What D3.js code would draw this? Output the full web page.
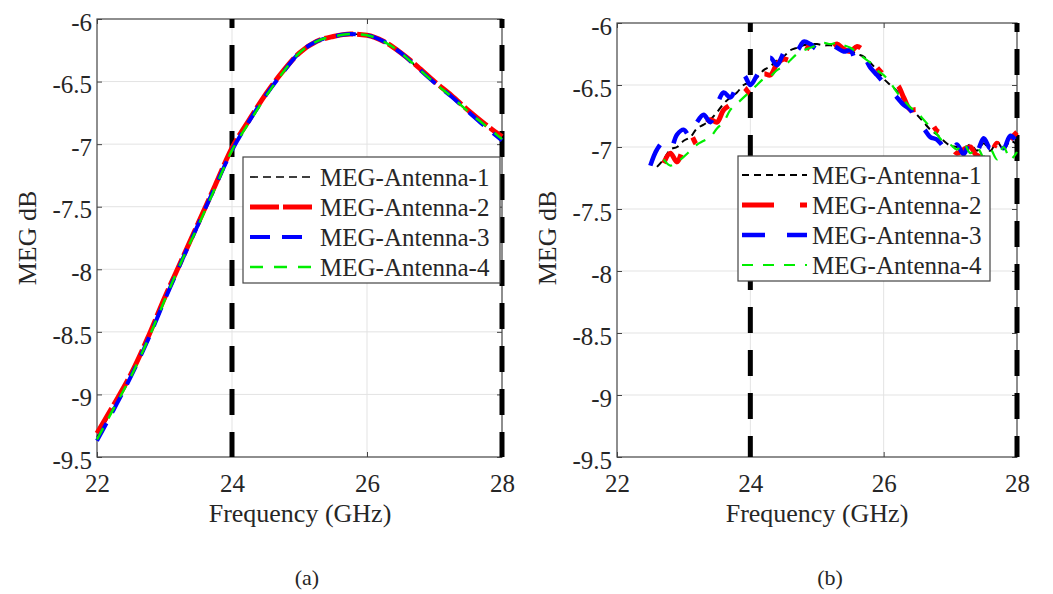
<!DOCTYPE html>
<html>
<head>
<meta charset="utf-8">
<script src="https://cdn.jsdelivr.net/npm/d3@7/dist/d3.min.js"></script>
<style>
body { margin: 0; background: #fff; }
</style>
</head>
<body>
<div id="chart"></div>
<script>
// ---- data ----
const seriesNames = ["MEG-Antenna-1", "MEG-Antenna-2", "MEG-Antenna-3", "MEG-Antenna-4"];
const xTicks = [22, 24, 26, 28];
const yTicks = [-6, -6.5, -7, -7.5, -8, -8.5, -9, -9.5];
const bandEdges = [24, 28];
const panelLabels = ["(a)", "(b)"];

// panel (a)
const freqA = [22, 22.25, 22.5, 22.75, 23, 23.25, 23.5, 23.75, 24, 24.25, 24.5, 24.75, 25,
    25.25, 25.5, 25.75, 26, 26.25, 26.5, 26.75, 27, 27.25, 27.5, 27.75, 28];
const megA1 = [-9.34, -9.1, -8.85, -8.56, -8.24, -7.93, -7.64, -7.34, -7.04, -6.82, -6.61, -6.43, -6.27,
    -6.18, -6.14, -6.12, -6.13, -6.18, -6.27, -6.39, -6.51, -6.62, -6.74, -6.85, -6.96];
const megA2 = [-9.31, -9.08, -8.84, -8.55, -8.23, -7.93, -7.63, -7.33, -7.03, -6.81, -6.6, -6.42, -6.27,
    -6.18, -6.14, -6.12, -6.13, -6.18, -6.27, -6.38, -6.5, -6.61, -6.73, -6.84, -6.94];
const megA3 = [-9.37, -9.12, -8.86, -8.57, -8.25, -7.94, -7.64, -7.34, -7.05, -6.82, -6.61, -6.43, -6.27,
    -6.18, -6.14, -6.12, -6.13, -6.18, -6.27, -6.39, -6.51, -6.62, -6.74, -6.86, -6.97];
const megA4 = [-9.36, -9.11, -8.86, -8.57, -8.25, -7.94, -7.65, -7.35, -7.05, -6.83, -6.62, -6.43, -6.27,
    -6.18, -6.14, -6.12, -6.13, -6.18, -6.27, -6.39, -6.51, -6.62, -6.74, -6.85, -6.96];

// panel (b)
const freqB = [22.5, 22.6, 22.7, 22.8, 22.9, 23, 23.1, 23.2, 23.3, 23.4, 23.5, 23.6, 23.7, 23.8, 23.9,
    24, 24.1, 24.2, 24.3, 24.4, 24.5, 24.6, 24.7, 24.8, 24.9, 25, 25.1, 25.2, 25.3, 25.4, 25.5,
    25.6, 25.7, 25.8, 25.9, 26, 26.1, 26.2, 26.3, 26.4, 26.5, 26.6, 26.7, 26.8, 26.9, 27,
    27.1, 27.2, 27.3, 27.4, 27.5, 27.6, 27.7, 27.8, 27.9, 28];
const megB1 = [null, -7.16, -7.1, -7.02, -7.0, -6.95, -6.92, -6.85, -6.82, -6.78, -6.72, -6.65, -6.6, -6.56, -6.5,
    -6.48, -6.44, -6.38, -6.35, -6.3, -6.27, -6.22, -6.2, -6.18, -6.17, -6.17, -6.18, -6.18, -6.19, -6.2, -6.22,
    -6.25, -6.27, -6.32, -6.38, -6.45, -6.5, -6.55, -6.62, -6.68, -6.74, -6.8, -6.86, -6.9, -6.95, -6.99,
    -7.0, -7.02, -6.98, -7.03, -6.97, -7.03, -6.96, -7.02, -6.95, -6.98];
const megB2 = [null, null, -7.13, -7.05, -7.12, -7.0, -6.9, -6.98, -6.85, -6.78, -6.8, -6.7, -6.66, -6.62, -6.52,
    -6.57, -6.47, -6.41, -6.42, -6.33, -6.29, -6.3, -6.22, -6.24, -6.17, -6.15, -6.19, -6.2, -6.17, -6.21, -6.23,
    -6.19, -6.22, -6.28, -6.36, -6.42, -6.52, -6.5, -6.6, -6.7, -6.7, -6.77, -6.8, -6.87, -6.9, -6.98,
    -7.05, -7.02, -7.0, -7.07, -6.99, -7.05, -6.97, -7.05, -6.94, -6.88];
const megB3 = [-7.15, -7.02, -6.96, -7.02, -6.9, -6.86, -6.92, -6.8, -6.74, -6.8, -6.66, -6.56, -6.6, -6.5, -6.42,
    -6.5, -6.42, -6.32, -6.28, -6.34, -6.24, -6.18, -6.22, -6.15, -6.17, -6.21, -6.18, -6.17, -6.2, -6.23, -6.22,
    -6.32, -6.28, -6.36, -6.42, -6.48, -6.54, -6.6, -6.66, -6.7, -6.8, -6.85, -6.92, -6.94, -7.0, -7.05,
    -6.98, -7.06, -6.95, -7.03, -6.93, -7.01, -6.93, -7.01, -6.91, -6.96];
const megB4 = [null, null, -7.1, -7.15, -7.12, -7.08, -7.03, -6.98, -6.95, -6.92, -6.85, -6.8, -6.7, -6.65, -6.6,
    -6.55, -6.5, -6.45, -6.43, -6.38, -6.35, -6.3, -6.25, -6.22, -6.2, -6.18, -6.16, -6.17, -6.16, -6.18, -6.2,
    -6.24, -6.28, -6.32, -6.38, -6.42, -6.48, -6.56, -6.62, -6.68, -6.72, -6.78, -6.84, -6.9, -6.96, -6.98,
    -7.02, -6.97, -7.05, -7.0, -7.08, -7.02, -7.1, -7.0, -7.1, -7.04];

// ---- layout ----
const width = 1053, height = 594;
const font = "Liberation Serif";
const textColor = "#262626";
const colors = ["#000000", "#ff0000", "#0000ff", "#00ee00"];

const panels = [
    {
        left: 97, right: 502, top: 19, bottom: 457,
        freq: freqA, series: [megA1, megA2, megA3, megA4],
        widths: [1.6, 5, 4, 2.5],
        dashes: ["8 5", "29 4", "20 12", "13 11"],
        legend: { x: 243, y: 157, w: 257, h: 126, rowY: 177, sx0: 250, sx1: 313, tx: 320 },
        curve: d3.curveMonotoneX, labelX: 300, yLabelX: 36, tagX: 307
    },
    {
        left: 617, right: 1017, top: 23, bottom: 457,
        freq: freqB, series: [megB1, megB2, megB3, megB4],
        widths: [2, 5, 4.5, 2.2],
        dashes: ["7 5", "32 26 7 26", "23 22", "11 10"],
        legend: { x: 738, y: 156, w: 252, h: 125, rowY: 175, sx0: 742, sx1: 807, tx: 812 },
        curve: d3.curveCatmullRom, labelX: 817, yLabelX: 556, tagX: 830
    }
];

const svg = d3.select("#chart")
    .append("svg")
    .attr("width", width)
    .attr("height", height);

const addText = (sel, size) => sel.append("text")
    .attr("font-family", font)
    .style("font-family", font)
    .attr("font-size", size)
    .attr("fill", textColor);

const drawPanel = (p, idx) => {
    const g = svg.append("g");
    const xScale = d3.scaleLinear().domain([22, 28]).range([p.left, p.right]);
    const yScale = d3.scaleLinear().domain([-9.5, -6]).range([p.bottom, p.top]);

    // grid
    g.selectAll("line.gx")
        .data(xTicks.slice(1, -1))
        .enter().append("line")
        .attr("x1", d => xScale(d)).attr("x2", d => xScale(d))
        .attr("y1", p.top).attr("y2", p.bottom)
        .attr("stroke", "#e3e3e3").attr("stroke-width", 1);
    g.selectAll("line.gy")
        .data(yTicks.slice(1, -1))
        .enter().append("line")
        .attr("x1", p.left).attr("x2", p.right)
        .attr("y1", d => yScale(d)).attr("y2", d => yScale(d))
        .attr("stroke", "#e3e3e3").attr("stroke-width", 1);

    // axes (inward ticks on all four sides)
    const xAxis = g.append("g")
        .attr("transform", "translate(0," + p.bottom + ")")
        .call(d3.axisBottom(xScale).tickValues(xTicks).tickSizeInner(-5).tickSizeOuter(0)
            .tickPadding(17).tickFormat(d => d));
    const yAxis = g.append("g")
        .attr("transform", "translate(" + p.left + ",0)")
        .call(d3.axisLeft(yScale).tickValues(yTicks).tickSizeInner(-5).tickSizeOuter(0)
            .tickPadding(5).tickFormat(d => d));
    g.append("g")
        .attr("transform", "translate(0," + p.top + ")")
        .call(d3.axisTop(xScale).tickValues(xTicks).tickSizeInner(-5).tickSizeOuter(0).tickFormat(""));
    g.append("g")
        .attr("transform", "translate(" + p.right + ",0)")
        .call(d3.axisRight(yScale).tickValues(yTicks).tickSizeInner(-5).tickSizeOuter(0).tickFormat(""));
    g.selectAll(".domain").remove();
    g.selectAll(".tick line").attr("stroke", "#444");
    [xAxis, yAxis].forEach(a => {
        a.attr("font-family", font).attr("font-size", 25);
        a.selectAll("text")
            .attr("font-family", font).style("font-family", font)
            .attr("font-size", 25).attr("fill", textColor);
    });
    yAxis.selectAll("text").attr("dy", "0.45em");

    g.append("rect")
        .attr("x", p.left).attr("y", p.top)
        .attr("width", p.right - p.left).attr("height", p.bottom - p.top)
        .attr("fill", "none").attr("stroke", "#444").attr("stroke-width", 1.2);

    // band edges
    g.selectAll("line.edge")
        .data(bandEdges)
        .enter().append("line")
        .attr("x1", d => xScale(d)).attr("x2", d => xScale(d))
        .attr("y1", p.top).attr("y2", p.bottom)
        .attr("stroke", "#000").attr("stroke-width", 5)
        .attr("stroke-dasharray", "26 17").attr("stroke-dashoffset", 17);

    // curves
    const line = d3.line()
        .defined(d => d[1] !== null)
        .x(d => xScale(d[0]))
        .y(d => yScale(d[1]))
        .curve(p.curve);
    p.series.forEach((vals, i) => {
        g.append("path")
            .datum(p.freq.map((f, j) => [f, vals[j]]))
            .attr("d", line)
            .attr("fill", "none")
            .attr("stroke", colors[i])
            .attr("stroke-width", p.widths[i])
            .attr("stroke-dasharray", p.dashes[i]);
    });

    // legend
    const L = p.legend;
    const lg = g.append("g");
    lg.append("rect")
        .attr("x", L.x).attr("y", L.y).attr("width", L.w).attr("height", L.h)
        .attr("fill", "#fff").attr("stroke", "#444").attr("stroke-width", 1.2);
    seriesNames.forEach((name, i) => {
        const y = L.rowY + i * 30;
        lg.append("line")
            .attr("x1", L.sx0).attr("x2", L.sx1).attr("y1", y).attr("y2", y)
            .attr("stroke", colors[i]).attr("stroke-width", p.widths[i])
            .attr("stroke-dasharray", p.dashes[i]);
        addText(lg, 25)
            .attr("x", L.tx).attr("y", y).attr("dy", "0.35em")
            .text(name);
    });

    // labels
    addText(g, 26)
        .attr("x", p.labelX).attr("y", 522)
        .attr("text-anchor", "middle")
        .text("Frequency (GHz)");
    addText(g, 26)
        .attr("transform", "translate(" + p.yLabelX + "," + 238 + ") rotate(-90)")
        .attr("text-anchor", "middle")
        .text("MEG dB");
    addText(g, 22)
        .attr("x", p.tagX).attr("y", 585)
        .attr("text-anchor", "middle")
        .text(panelLabels[idx]);
};

panels.forEach(drawPanel);
</script>
</body>
</html>
